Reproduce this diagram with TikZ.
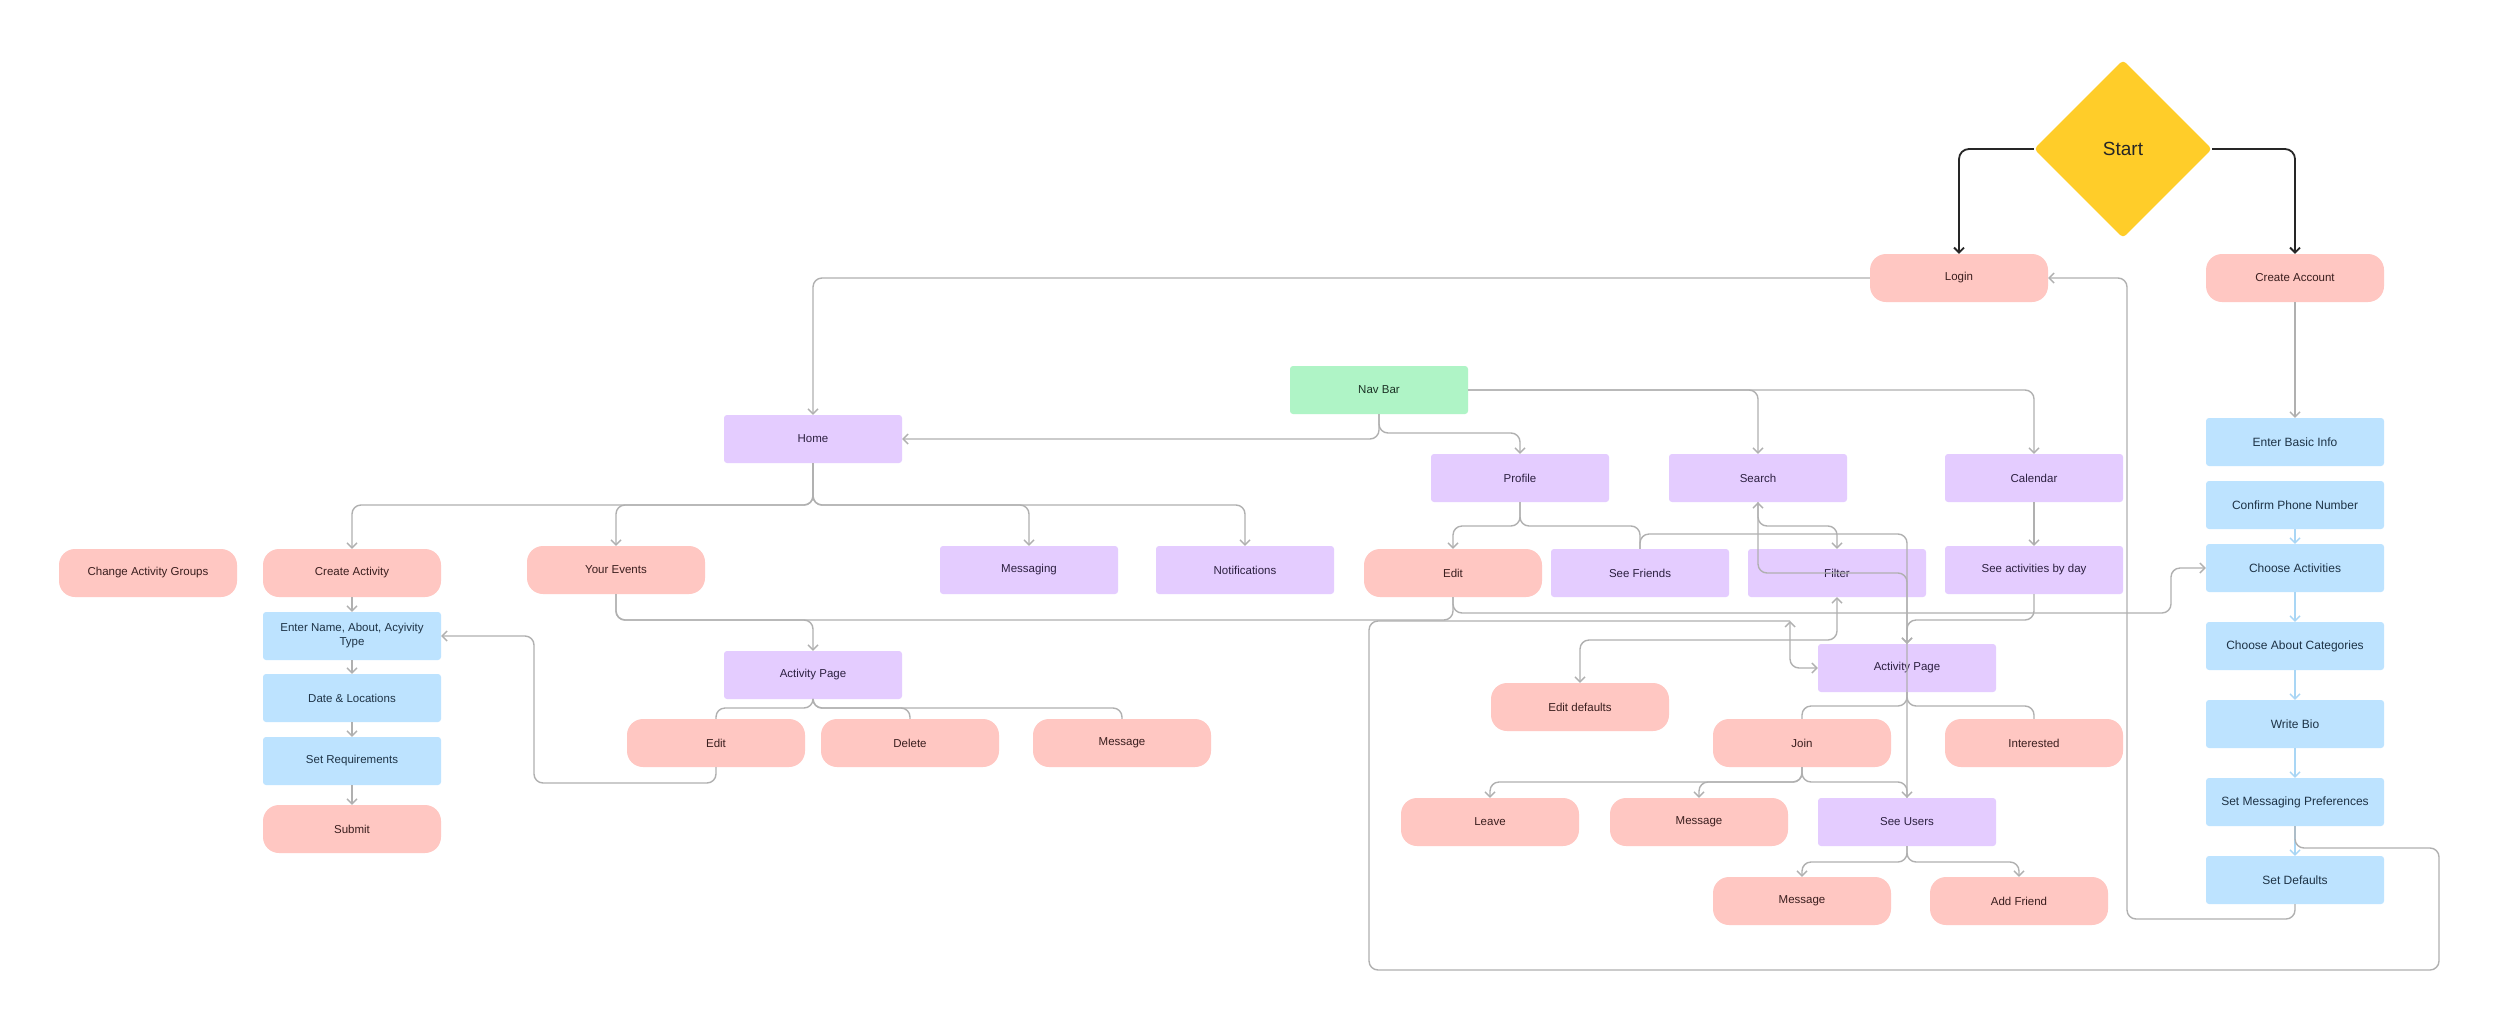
\documentclass[tikz,border=0pt]{standalone}
\usepackage{fontspec}
\setmainfont{Liberation Sans}
\usetikzlibrary{shapes.geometric,arrows.meta}
\definecolor{pinkf}{HTML}{FFC7C2}
\definecolor{purpf}{HTML}{E4CCFF}
\definecolor{bluef}{HTML}{BDE3FF}
\definecolor{greenf}{HTML}{AFF4C6}
\definecolor{yellowf}{HTML}{FFCD29}
\definecolor{lineg}{HTML}{B0B0B0}
\definecolor{lineb}{HTML}{A9D6F5}
\definecolor{pinkt}{HTML}{3A1E1E}
\definecolor{purpt}{HTML}{2C2040}
\definecolor{bluet}{HTML}{1E3346}
\definecolor{greent}{HTML}{1C3326}
\begin{document}
\begin{tikzpicture}[x=1pt,y=-1pt,
  >={Straight Barb[length=5pt,width=10pt]},
  box/.style={minimum width=178pt, minimum height=48pt, inner sep=2pt,
    font=\fontsize{11.5}{14}\selectfont, align=center},
  pinkbox/.style={box, fill=pinkf, rounded corners=16pt, text=pinkt},
  purplebox/.style={box, fill=purpf, rounded corners=3pt, text=purpt},
  bluebox/.style={box, fill=bluef, rounded corners=3pt, text=bluet},
  rbluebox/.style={bluebox, font=\fontsize{12}{14}\selectfont},
  greenbox/.style={box, fill=greenf, rounded corners=3pt, text=greent},
  startbox/.style={diamond, aspect=1, minimum width=178pt, minimum height=178pt,
    inner sep=0pt, fill=yellowf, rounded corners=4pt, text=black!85,
    font=\fontsize{19}{22}\selectfont},
  conn/.style={draw=lineg, line width=1.4pt, rounded corners=9pt, ->},
  plain/.style={draw=lineg, line width=1.4pt, rounded corners=9pt},
  bconn/.style={draw=lineb, line width=1.4pt, ->},
  kconn/.style={draw=black!85, line width=1.8pt, rounded corners=10pt, ->}
]
\fill[white] (0,0) rectangle (2500,1031);
\useasboundingbox (0,0) rectangle (2500,1031);

% ---- nodes ----
\node[startbox] (start) at (2123,149) {Start};
\node[pinkbox] (login) at (1959,278) {Login};
\node[pinkbox] (createacc) at (2295,278) {Create Account};
\node[greenbox] (navbar) at (1379,390) {Nav Bar};
\node[purplebox] (home) at (813,439) {Home};
\node[purplebox] (profile) at (1520,478) {Profile};
\node[purplebox] (search) at (1758,478) {Search};
\node[purplebox] (calendar) at (2034,478) {Calendar};

\node[pinkbox] (changegrp) at (148,573) {Change Activity Groups};
\node[pinkbox] (createact) at (352,573) {Create Activity};
\node[pinkbox] (yourev) at (616,570) {Your Events};
\node[purplebox] (messaging) at (1029,570) {Messaging};
\node[purplebox] (notif) at (1245,570) {Notifications};
\node[pinkbox] (editp) at (1453,573) {Edit};
\node[purplebox] (seefr) at (1640,573) {See Friends};
\node[purplebox] (filter) at (1837,573) {Filter};
\node[purplebox] (seeday) at (2034,570) {See activities by day};

\node[bluebox] (entername) at (352,636) {Enter Name, About, Acyivity\\Type};
\node[bluebox] (dateloc) at (352,698) {Date \& Locations};
\node[bluebox] (setreq) at (352,761) {Set Requirements};
\node[pinkbox] (submit) at (352,829) {Submit};

\node[purplebox] (apl) at (813,675) {Activity Page};
\node[pinkbox] (editl) at (716,743) {Edit};
\node[pinkbox] (delete) at (910,743) {Delete};
\node[pinkbox] (messagel) at (1122,743) {Message};

\node[pinkbox] (editdef) at (1580,707) {Edit defaults};
\node[purplebox] (apr) at (1907,668) {Activity Page};
\node[pinkbox] (join) at (1802,743) {Join};
\node[pinkbox] (interested) at (2034,743) {Interested};
\node[pinkbox] (leave) at (1490,822) {Leave};
\node[pinkbox] (messagem) at (1699,822) {Message};
\node[purplebox] (seeusers) at (1907,822) {See Users};
\node[pinkbox] (messageb) at (1802,901) {Message};
\node[pinkbox] (addfriend) at (2019,901) {Add Friend};

\node[rbluebox] (basic) at (2295,442) {Enter Basic Info};
\node[rbluebox] (phone) at (2295,505) {Confirm Phone Number};
\node[rbluebox] (chooseact) at (2295,568) {Choose Activities};
\node[rbluebox] (chooseabout) at (2295,646) {Choose About Categories};
\node[rbluebox] (bio) at (2295,724) {Write Bio};
\node[rbluebox] (msgpref) at (2295,802) {Set Messaging Preferences};
\node[rbluebox] (setdef) at (2295,880) {Set Defaults};

\coordinate (apjoin) at (1790,621);

% ---- connectors ----
\draw[kconn] (start.west) -| (login.north);
\draw[kconn] (start.east) -| (createacc.north);

\draw[conn] (login.west) -| (home.north);
\draw[conn] (createacc.south) -- (basic.north);
\draw[bconn] (phone.south) -- (chooseact.north);
\draw[bconn] (chooseact.south) -- (chooseabout.north);
\draw[bconn] (chooseabout.south) -- (bio.north);
\draw[bconn] (bio.south) -- (msgpref.north);
\draw[bconn] (msgpref.south) -- (setdef.north);

\draw[conn] (setdef.south) -- (2295,919) -- (2127,919) -- (2127,278) -- (login.east);
\draw[plain] (msgpref.south) -- (2295,848) -- (2439,848) -- (2439,970) -- (1369,970) -- (1369,621) -- (apjoin);
\draw[conn,<->] (apjoin) |- (apr.west);

\draw[plain] (yourev.south) -- (616,620) -- (1453,620) -- (editp.south);
\draw[conn] (yourev.south) -- (616,620) -- (813,620) -- (apl.north);
\draw[conn] (editp.south) -- (1453,613) -- (2171,613) -- (2171,568) -- (chooseact.west);

\draw[conn] (home.south) -- (813,505) -| (createact.north);
\draw[conn] (home.south) -- (813,505) -| (yourev.north);
\draw[conn] (home.south) -- (813,505) -| (messaging.north);
\draw[conn] (home.south) -- (813,505) -| (notif.north);

\draw[conn] (navbar.south) |- (home.east);
\draw[conn] (navbar.south) -- (1379,433) -| (profile.north);
\draw[conn] (navbar.east) -| (search.north);
\draw[conn] (navbar.east) -| (calendar.north);

\draw[conn] (profile.south) -- (1520,526) -| (editp.north);
\draw[plain] (profile.south) -- (1520,526) -| (seefr.north);
\draw[conn] (seefr.north) -- (1640,534) -- (1907,534) -- (apr.north);
\draw[conn] (search.south) -- (1758,526) -| (filter.north);
\draw[conn] (seeusers.north) -- (1907,573) -- (1758,573) -- (search.south);
\draw[conn] (calendar.south) -- (seeday.north);
\draw[conn] (seeday.south) -- (2034,620) -| (apr.north);
\draw[conn,<->] (editdef.north) -- (1580,640) -| (filter.south);

\draw[plain] (apr.south) -- (1907,706) -| (join.north);
\draw[plain] (apr.south) -- (1907,706) -| (interested.north);
\draw[conn] (join.south) -- (1802,782) -| (leave.north);
\draw[conn] (join.south) -- (1802,782) -| (messagem.north);
\draw[conn] (join.south) -- (1802,782) -| (seeusers.north);
\draw[conn] (seeusers.south) -- (1907,862) -| (messageb.north);
\draw[conn] (seeusers.south) -- (1907,862) -| (addfriend.north);

\draw[plain] (apl.south) -- (813,708) -| (editl.north);
\draw[plain] (apl.south) -- (813,708) -| (delete.north);
\draw[plain] (apl.south) -- (813,708) -| (messagel.north);
\draw[conn] (editl.south) -- (716,783) -- (534,783) -- (534,636) -- (entername.east);

\draw[conn] (createact.south) -- (entername.north);
\draw[conn] (entername.south) -- (dateloc.north);
\draw[conn] (dateloc.south) -- (setreq.north);
\draw[conn] (setreq.south) -- (submit.north);
\end{tikzpicture}
\end{document}
